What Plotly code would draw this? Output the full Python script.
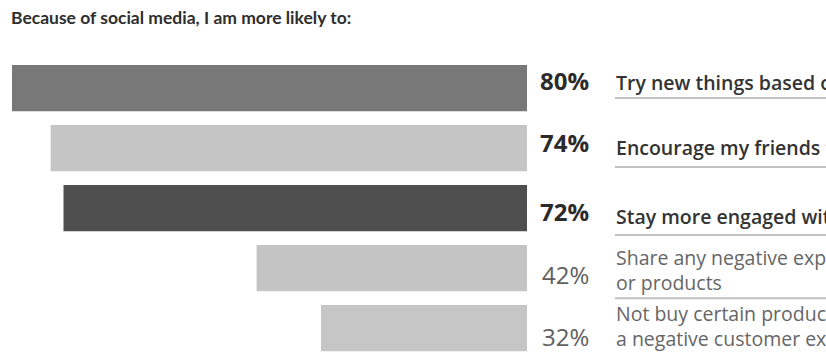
import plotly.graph_objects as go

categories = [
    "Try new things based on recommendations",
    "Encourage my friends to buy",
    "Stay more engaged with brands",
    "Share any negative experiences with companies<br>or products",
    "Not buy certain products after hearing about<br>a negative customer experience",
]
values = [80, 74, 72, 42, 32]
pct_labels = ["80%", "74%", "72%", "42%", "32%"]
bar_colors = ["#787878", "#c5c5c5", "#4f4f4f", "#c4c4c4", "#c6c6c6"]
emphasis = [True, True, True, False, False]
title_text = "Because of social media, I am more likely to:"

W, H = 826, 354
ML, MR, MT, MB = 12, 299, 58, 0
pw = W - ML - MR

def px_to_paper_x(px):
    return (px - ML) / pw

rows = list(range(len(values)))

fig = go.Figure()
fig.add_trace(go.Bar(
    x=values, y=rows, orientation="h",
    marker=dict(color=bar_colors, line=dict(width=0)),
    width=0.77, hoverinfo="skip", showlegend=False,
))

pct_shift = [8, 6, -3, -6, -8]
lab_shift = [6, 1, -8, -2, 2]
for i in rows:
    bold = emphasis[i]
    fig.add_annotation(
        x=px_to_paper_x(591), xref="paper", y=rows[i], yref="y",
        text=pct_labels[i], showarrow=False, xanchor="right", yanchor="middle",
        yshift=pct_shift[i],
        font=dict(family="Open Sans", size=24, color="#2b2b2b" if bold else "#606060",
                  weight=700 if bold else 400),
    )
    fig.add_annotation(
        x=px_to_paper_x(614), xref="paper", y=rows[i], yref="y",
        text=categories[i], showarrow=False, xanchor="left", yanchor="middle",
        align="left", yshift=lab_shift[i],
        font=dict(family="Open Sans", size=19.5, color="#333333" if bold else "#666666",
                  weight=600 if bold else 400),
    )

underline_y = [0.167, 1.317, 2.45, 3.5]
for yv in underline_y:
    fig.add_shape(type="line", xref="paper", yref="y",
                  x0=px_to_paper_x(615), x1=px_to_paper_x(W + 20), y0=yv, y1=yv,
                  line=dict(color="#c2c2c2", width=2))

fig.update_layout(
    width=W, height=H,
    margin=dict(l=ML, r=MR, t=MT, b=MB, pad=0),
    paper_bgcolor="white", plot_bgcolor="white",
    bargap=0.23,
    title=dict(text=f"<b>{title_text}</b>", xref="container", yref="container",
               x=11 / W, y=1 - 18 / H, xanchor="left", yanchor="middle",
               font=dict(family="Lato", size=17.5, color="#2e2e2e")),
    xaxis=dict(range=[80, 0], visible=False, fixedrange=True),
    yaxis=dict(range=[4.43, -0.5], visible=False, fixedrange=True),
)

fig.write_html("out.html")
